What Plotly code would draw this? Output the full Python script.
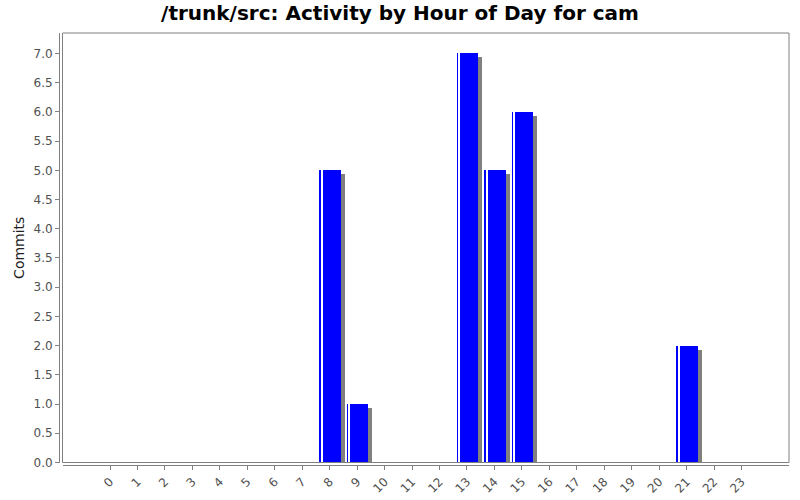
import plotly.graph_objects as go

# ---- data ----
hours = list(range(24))
tick_labels = [str(h) for h in hours]
commits = [0, 0, 0, 0, 0, 0, 0, 0, 5, 1, 0, 0, 0, 7, 5, 6, 0, 0, 0, 0, 0, 2, 0, 0]
title_text = "/trunk/src: Activity by Hour of Day for cam"
y_title = "Commits"

# ---- layout geometry (pixels) ----
W, H = 800, 500
m_l, m_r, m_t, m_b = 59, 11, 33, 35
x_range = [-1.73, 24.73]
y_range = [0, 7.35]
plot_w_px = 789 - 62.5
plot_h_px = 463 - 33
px_per_cat = plot_w_px / (x_range[1] - x_range[0])
px_per_unit = plot_h_px / (y_range[1] - y_range[0])

bar_w = 0.79
shadow_dx = 4 / px_per_cat
shadow_dy = 4 / px_per_unit
stripe_off = 2 / px_per_cat
stripe_w = 1.6 / px_per_cat

shadow_vals = [v - shadow_dy if v > 0 else None for v in commits]
stripe_vals = [v if v > 0 else None for v in commits]
main_vals = [v if v > 0 else None for v in commits]

fig = go.Figure()
fig.add_trace(go.Bar(x=hours, y=shadow_vals, width=bar_w, offset=-bar_w / 2 + shadow_dx,
                     marker=dict(color="#808080", line=dict(width=0)), hoverinfo="skip"))
fig.add_trace(go.Bar(x=hours, y=main_vals, width=bar_w, offset=-bar_w / 2,
                     marker=dict(color="#0000ff", line=dict(width=0))))
fig.add_trace(go.Bar(x=hours, y=stripe_vals, width=stripe_w, offset=-bar_w / 2 + stripe_off,
                     marker=dict(color="#ffffff", line=dict(width=0)), hoverinfo="skip"))

paper_w = W - m_l - m_r
paper_h = H - m_t - m_b
x_dom0 = 3.5 / paper_w
y_dom0 = 2.5 / paper_h

axis_col = "#808080"
tick_font = dict(family="DejaVu Sans", size=12, color="#505050")

fig.update_layout(
    width=W, height=H,
    margin=dict(l=m_l, r=m_r, t=m_t, b=m_b, pad=0, autoexpand=False),
    paper_bgcolor="white", plot_bgcolor="white",
    barmode="overlay", bargap=0,
    showlegend=False,
    title=dict(text="<b>" + title_text + "</b>", x=0.5, xanchor="center", y=1 - 13 / H, yanchor="middle",
               font=dict(family="DejaVu Sans", size=20, color="#000000")),
    xaxis=dict(domain=[x_dom0, 1], range=x_range, anchor="free", position=0, automargin=False,
               tickmode="array", tickvals=hours, ticktext=tick_labels, tickangle=-45,
               showgrid=False, zeroline=False, showline=True, linecolor=axis_col, linewidth=1,
               ticks="outside", ticklen=4, tickcolor=axis_col, tickfont=tick_font),
    yaxis=dict(domain=[y_dom0, 1], range=y_range, anchor="free", position=0, automargin=False,
               dtick=0.5, tick0=0, tickformat=".1f",
               showgrid=False, zeroline=False, showline=True, linecolor=axis_col, linewidth=1,
               ticks="outside", ticklen=4, tickcolor=axis_col, tickfont=tick_font,
               title=dict(text=y_title, font=dict(family="DejaVu Sans", size=14, color="#222222"), standoff=4)),
    shapes=[dict(type="rect", xref="x domain", yref="y domain", x0=0, x1=1, y0=0, y1=1,
                 line=dict(color=axis_col, width=1), fillcolor="rgba(0,0,0,0)", layer="above")],
)

fig.write_html("out.html", config={"displayModeBar": False},
               post_script="document.body.style.margin='0';document.body.style.padding='0';"
                           "document.documentElement.style.overflow='hidden';")
